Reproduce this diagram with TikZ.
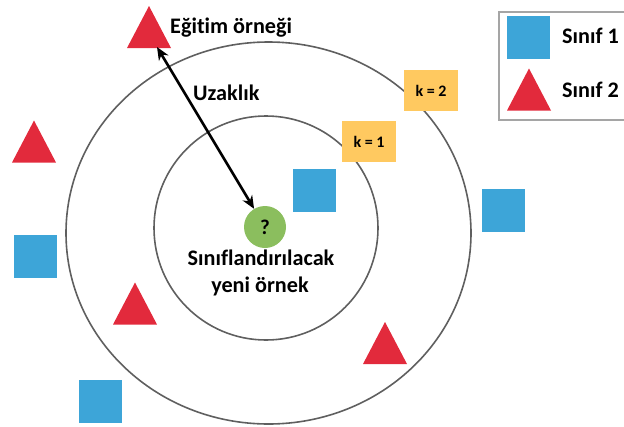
\documentclass[tikz,border=0pt]{standalone}
\usepackage{fontspec}
\setmainfont{Carlito}[Ligatures=NoCommon]
\usetikzlibrary{arrows.meta}

\definecolor{clsblue}{RGB}{61,165,216}
\definecolor{clsred}{RGB}{226,42,60}
\definecolor{newgreen}{RGB}{139,190,94}
\definecolor{kyellow}{RGB}{255,201,96}
\definecolor{ringgray}{RGB}{95,95,95}
\definecolor{legendgray}{RGB}{165,165,165}

\tikzset{
  ring/.style={draw=ringgray, line width=1.6pt},
  sqpoint/.style={rectangle, fill=clsblue, minimum size=43pt, inner sep=0pt},
  tripoint/.pic={\fill[clsred] (-22,21) -- (0,-21) -- (22,21) -- cycle;},
  kbox/.style={rectangle, fill=kyellow, minimum width=54pt, minimum height=41pt,
               inner sep=0pt, font=\fontsize{16}{19}\selectfont\bfseries},
  lbl/.style={inner sep=0pt, font=\fontsize{22.2}{26}\selectfont\bfseries},
  dist/.style={line width=2.6pt, {Stealth[length=13pt,width=11pt]}-{Stealth[length=13pt,width=11pt]}},
}

\begin{document}
\begin{tikzpicture}[x=1pt, y=-1pt]
\useasboundingbox (0,0) rectangle (624,426);
\clip (0,0) rectangle (624,426);

% neighbourhood rings for k = 1 and k = 2
\draw[ring] (266,228) circle [radius=112];
\draw[ring] (268.5,233) ellipse [x radius=202.5, y radius=191];

% class 1 samples
\node[sqpoint] (s1) at (314,190) {};
\node[sqpoint] (s2) at (503,210.5) {};
\node[sqpoint] (s3) at (35.5,256.5) {};
\node[sqpoint] (s4) at (100,401.5) {};

% class 2 samples
\pic at (149,27) {tripoint};
\pic at (34,141.5) {tripoint};
\pic at (135,303.5) {tripoint};
\pic at (385,343) {tripoint};
\coordinate (train) at (157,47);

% sample to classify
\node[circle, fill=newgreen, minimum size=42pt, inner sep=0pt,
      font=\fontsize{21}{25}\selectfont\bfseries] (new) at (265,227) {?};

% distance between the training sample and the new sample
\draw[dist] (train) -- (new);

% labels
\node[lbl, anchor=base west] (lt) at (170,33) {Eğitim örneği};
\node[lbl, anchor=base west] (ld) at (193,100) {Uzaklık};
\node[lbl, anchor=base] (ln1) at (261,265) {Sınıflandırılacak};
\node[lbl, anchor=base] (ln2) at (260,292) {yeni örnek};

% k labels
\node[kbox] (k2) at (431,90.5) {k = 2};
\node[kbox] (k1) at (369,141.5) {k = 1};

% legend
\draw[legendgray, line width=1.2pt] (499,12) rectangle (640,120);
\node[sqpoint] (lsq) at (528.5,37.5) {};
\pic at (529,89.5) {tripoint};
\node[lbl, anchor=base west] (lc1) at (562,43) {Sınıf 1};
\node[lbl, anchor=base west] (lc2) at (562,97) {Sınıf 2};
\end{tikzpicture}
\end{document}
